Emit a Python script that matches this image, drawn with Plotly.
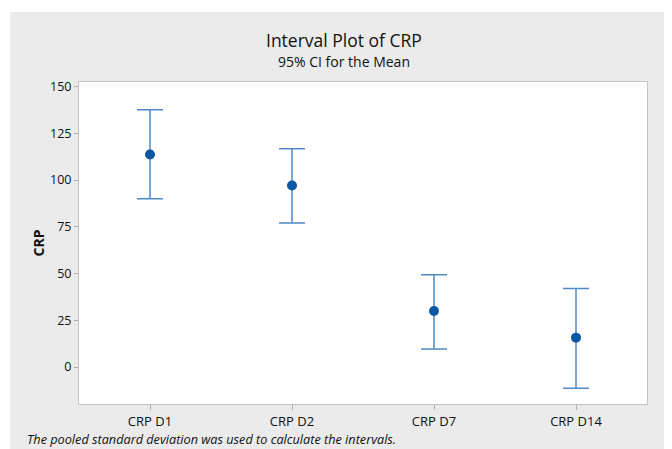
import plotly.graph_objects as go

categories = ["CRP D1", "CRP D2", "CRP D7", "CRP D14"]
means = [113.7, 97.1, 30.0, 15.7]
upper = [137.7, 116.8, 49.4, 42.0]
lower = [90.0, 77.1, 9.6, -11.4]
y_ticks = [0, 25, 50, 75, 100, 125, 150]

err_plus = [u - m for u, m in zip(upper, means)]
err_minus = [m - l for m, l in zip(means, lower)]

# page is offset by the default 8px body margin
OFF = 8
W, H = 672, 449
L, T = 79 - OFF, 82 - OFF
plot_right, plot_bottom = 647 - OFF, 404 - OFF
R, B = W - plot_right, H - plot_bottom
pw, ph = plot_right - L, plot_bottom - T

font = "Open Sans, Noto Sans, sans-serif"
fig = go.Figure()
fig.add_trace(go.Scatter(
    x=list(range(len(categories))), y=means, mode="markers",
    marker=dict(color="#0b57a4", size=10),
    error_y=dict(type="data", symmetric=False, array=err_plus, arrayminus=err_minus,
                 color="#4f88c6", thickness=1.5, width=13),
    showlegend=False, hoverinfo="skip",
))

def px_x(p):  # p in page pixels
    return (p - OFF - L) / pw

def px_y(p):
    return (plot_bottom - (p - OFF)) / ph

shapes = [
    dict(type="rect", xref="paper", yref="paper", x0=px_x(0), x1=px_x(10), y0=px_y(470), y1=px_y(0),
         fillcolor="white", line=dict(width=0), layer="below"),
    dict(type="rect", xref="paper", yref="paper", x0=px_x(0), x1=px_x(690), y0=px_y(12), y1=px_y(0),
         fillcolor="white", line=dict(width=0), layer="below"),
]

fig.update_layout(
    width=W, height=H,
    margin=dict(l=L, r=R, t=T, b=B, autoexpand=False),
    paper_bgcolor="#ebebeb", plot_bgcolor="white",
    font=dict(family=font, color="#111111", size=12),
    shapes=shapes,
    xaxis=dict(range=[-0.5, 3.5], tickvals=list(range(len(categories))), ticktext=categories,
               showgrid=False, zeroline=False, showline=True, mirror=True, linecolor="#c4c4c4",
               ticks="outside", ticklen=5, tickcolor="#b0b0b0", tickfont=dict(size=13, color="#111111")),
    yaxis=dict(range=[-19.8, 152.5], tickvals=y_ticks, showgrid=False, zeroline=False,
               showline=True, mirror=True, linecolor="#c4c4c4",
               ticks="outside", ticklen=4, tickcolor="#b0b0b0", tickfont=dict(size=12.5, color="#111111")),
    annotations=[
        dict(text="Interval Plot of CRP", xref="paper", yref="paper", x=px_x(344), y=px_y(40),
             showarrow=False, font=dict(size=17.5, color="#111111"), xanchor="center", yanchor="middle"),
        dict(text="95% CI for the Mean", xref="paper", yref="paper", x=px_x(344), y=px_y(61.5),
             showarrow=False, font=dict(size=14, color="#111111"), xanchor="center", yanchor="middle"),
        dict(text="<b>CRP</b>", xref="paper", yref="paper", x=px_x(37.5), y=px_y(243),
             showarrow=False, textangle=-90, font=dict(size=14, color="#111111"),
             xanchor="center", yanchor="middle"),
        dict(text="<i>The pooled standard deviation was used to calculate the intervals.</i>",
             xref="paper", yref="paper", x=px_x(25), y=px_y(439), showarrow=False,
             font=dict(size=12.7, color="#111111"), xanchor="left", yanchor="middle"),
    ],
)

fig.write_html("out.html")
